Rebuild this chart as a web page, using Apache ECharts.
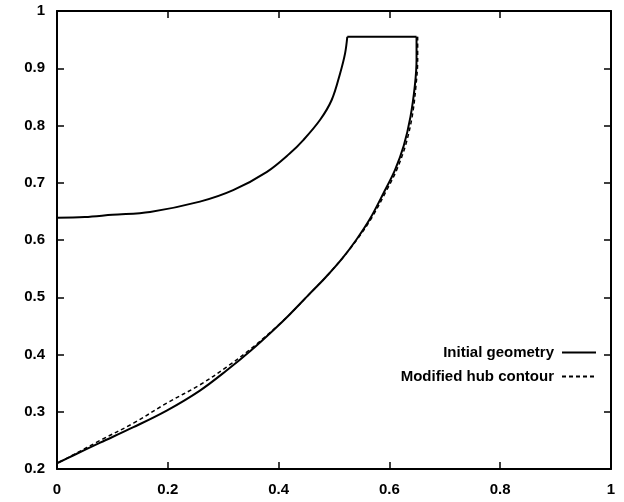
<!DOCTYPE html>
<html>
<head>
<meta charset="utf-8">
<script src="https://cdn.jsdelivr.net/npm/echarts@6/dist/echarts.min.js"></script>
<style>
html,body{margin:0;padding:0;background:#fff;}
#chart{width:624px;height:502px;}
</style>
</head>
<body>
<div id="chart"></div>
<script>
// Series names
const seriesNames = ['Initial geometry', 'Modified hub contour'];

// Initial geometry: shroud contour (left to right)
const shroudX = [0, 0.05, 0.10, 0.168, 0.258, 0.318, 0.379, 0.420, 0.445, 0.475, 0.496, 0.511, 0.520, 0.524];
const shroudY = [0.639, 0.640, 0.644, 0.649, 0.667, 0.687, 0.719, 0.751, 0.775, 0.810, 0.845, 0.891, 0.926, 0.955];

// Initial geometry: outlet edge at the top
const topX = [0.524, 0.649];
const topY = [0.955, 0.955];

// Initial geometry: hub contour (top down to origin)
const hubX = [0.649, 0.649, 0.646, 0.638, 0.626, 0.610, 0.590, 0.565, 0.540, 0.515, 0.485, 0.455, 0.420, 0.390, 0.350, 0.306, 0.258, 0.198, 0.138, 0.078, 0.030, 0];
const hubY = [0.955, 0.915, 0.870, 0.815, 0.765, 0.722, 0.683, 0.637, 0.600, 0.568, 0.535, 0.505, 0.470, 0.442, 0.407, 0.372, 0.337, 0.302, 0.273, 0.246, 0.224, 0.210];

// Modified hub contour
const modX = [0.651, 0.651, 0.648, 0.641, 0.629, 0.613, 0.593, 0.567, 0.541, 0.515, 0.485, 0.455, 0.420, 0.390, 0.350, 0.306, 0.258, 0.198, 0.138, 0.078, 0.030, 0];
const modY = [0.955, 0.915, 0.870, 0.815, 0.765, 0.722, 0.683, 0.637, 0.600, 0.568, 0.535, 0.505, 0.470, 0.443, 0.410, 0.378, 0.347, 0.315, 0.280, 0.250, 0.225, 0.210];

// Axis ranges
const xMin = 0, xMax = 1, xStep = 0.2;
const yMin = 0.2, yMax = 1, yStep = 0.1;

const zip = (xs, ys) => xs.map((x, i) => [x, ys[i]]);

const font = 'Liberation Sans, Arial, Helvetica, sans-serif';
const axisLine = { show: true, onZero: false, lineStyle: { color: '#000', width: 2 } };
const tick = { show: true, inside: true, length: 7, lineStyle: { color: '#000', width: 1.5 } };
const lbl = { color: '#000', fontFamily: font, fontSize: 15, fontWeight: 'bold' };
const solid = { color: '#000', width: 2 };

const chart = echarts.init(document.getElementById('chart'), null, { renderer: 'canvas' });
chart.setOption({
  backgroundColor: '#fff',
  animation: false,
  grid: { left: 57, right: 13, top: 11, bottom: 33, containLabel: false },
  legend: {
    data: seriesNames,
    orient: 'vertical',
    align: 'right',
    right: 27,
    top: 345,
    itemWidth: 34,
    itemHeight: 14,
    itemGap: 9,
    padding: 0,
    itemStyle: { opacity: 0 },
    textStyle: { color: '#000', fontFamily: font, fontSize: 15, fontWeight: 'bold', padding: [0, 3, 0, 0] }
  },
  xAxis: [
    { type: 'value', min: xMin, max: xMax, interval: xStep, position: 'bottom',
      axisLine: axisLine, axisTick: tick, splitLine: { show: false },
      axisLabel: Object.assign({ margin: 13 }, lbl) },
    { type: 'value', min: xMin, max: xMax, interval: xStep, position: 'top',
      axisLine: axisLine, axisTick: tick, splitLine: { show: false },
      axisLabel: { show: false } }
  ],
  yAxis: [
    { type: 'value', min: yMin, max: yMax, interval: yStep, position: 'left',
      axisLine: axisLine, axisTick: tick, splitLine: { show: false },
      axisLabel: Object.assign({ margin: 12 }, lbl) },
    { type: 'value', min: yMin, max: yMax, interval: yStep, position: 'right',
      axisLine: axisLine, axisTick: tick, splitLine: { show: false },
      axisLabel: { show: false } }
  ],
  series: [
    { name: seriesNames[0], type: 'line', data: zip(shroudX, shroudY), symbol: 'none',
      smooth: 0.35, lineStyle: solid, itemStyle: { color: '#000' } },
    { name: seriesNames[0], type: 'line', data: zip(topX, topY), symbol: 'none',
      lineStyle: solid, itemStyle: { color: '#000' } },
    { name: seriesNames[0], type: 'line', data: zip(hubX, hubY), symbol: 'none',
      smooth: 0.35, lineStyle: solid, itemStyle: { color: '#000' } },
    { name: seriesNames[1], type: 'line', data: zip(modX, modY), symbol: 'none',
      smooth: 0.35, lineStyle: { color: '#000', width: 1.5, type: [4, 3] }, itemStyle: { color: '#000' } }
  ]
});
</script>
</body>
</html>
